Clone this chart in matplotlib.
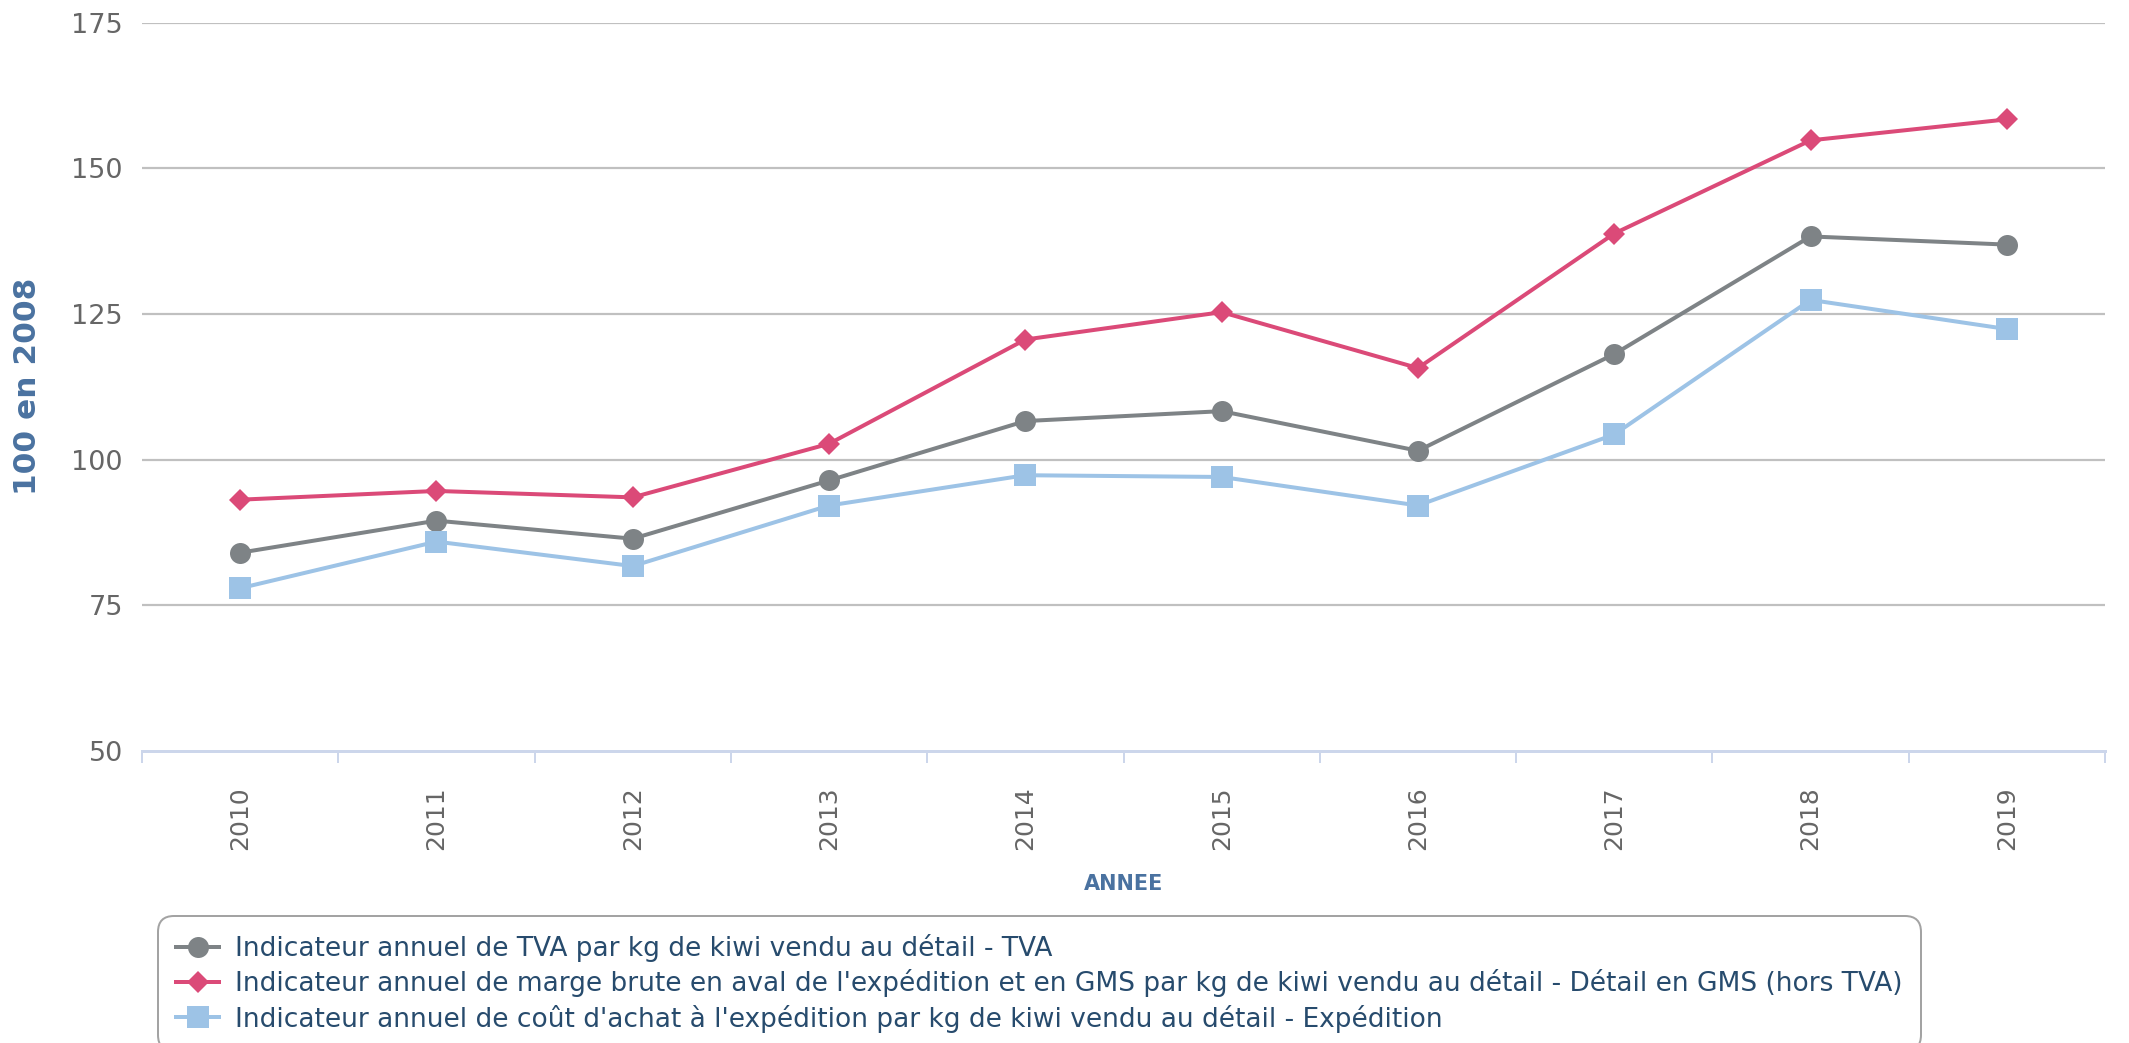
import matplotlib
matplotlib.use("Agg")
import matplotlib.pyplot as plt
from matplotlib.lines import Line2D

# ---- data ----
years = ["2010", "2011", "2012", "2013", "2014", "2015", "2016", "2017", "2018", "2019"]
tva = [84.0, 89.5, 86.4, 96.4, 106.6, 108.3, 101.5, 118.1, 138.3, 136.9]
marge_gms = [93.1, 94.6, 93.5, 102.7, 120.6, 125.3, 115.7, 138.8, 154.8, 158.4]
cout_achat = [77.9, 85.9, 81.7, 92.1, 97.3, 97.0, 92.1, 104.3, 127.4, 122.4]
labels = [
    "Indicateur annuel de TVA par kg de kiwi vendu au détail - TVA",
    "Indicateur annuel de marge brute en aval de l'expédition et en GMS par kg de kiwi vendu au détail - Détail en GMS (hors TVA)",
    "Indicateur annuel de coût d'achat à l'expédition par kg de kiwi vendu au détail - Expédition",
]
yticks = [50, 75, 100, 125, 150, 175]

# ---- styling ----
W, H = 2129, 1043
DPI = 100
c_gray = "#7e8386"
c_red = "#db4a78"
c_blue = "#9dc3e6"
c_tick = "#666666"
c_title = "#4a72a0"
c_legend_text = "#274b6d"
px = 72 / DPI  # points per pixel

fig = plt.figure(figsize=(W / DPI, H / DPI), dpi=DPI)
ax_left, ax_right = 142, 2105
ax_top, ax_bottom = 22.7, 750.7
ax = fig.add_axes([ax_left / W, 1 - ax_bottom / H,
                   (ax_right - ax_left) / W, (ax_bottom - ax_top) / H])

x = list(range(len(years)))
lw = 4 * px
l1, = ax.plot(x, tva, color=c_gray, lw=lw, marker="o", ms=21 * px,
              markeredgewidth=0, zorder=3)
l2, = ax.plot(x, marge_gms, color=c_red, lw=lw, marker="D", ms=15 * px,
              markeredgewidth=0, zorder=4)
l3, = ax.plot(x, cout_achat, color=c_blue, lw=lw, marker="s", ms=21.5 * px,
              markeredgewidth=0, zorder=3)

ax.set_xlim(-0.5, len(years) - 0.5)
ax.set_ylim(50, 175)
ax.set_yticks(yticks)
ax.set_yticklabels([str(v) for v in yticks])
ax.set_xticks(x)
ax.set_xticklabels(years, rotation=90, va="top", ha="center")
ax.set_xticks([i - 0.5 for i in range(len(years) + 1)], minor=True)

ax.tick_params(axis="y", length=0, pad=19 * px, labelsize=19.5, labelcolor=c_tick)
ax.tick_params(axis="x", which="major", length=0, pad=36 * px, labelsize=18,
               labelcolor=c_tick)
ax.tick_params(axis="x", which="minor", length=12 * px, width=2 * px,
               color="#ccd6eb", direction="out")

for s in ["top", "right", "left"]:
    ax.spines[s].set_visible(False)
ax.spines["bottom"].set_color("#ccd6eb")
ax.spines["bottom"].set_linewidth(3 * px)
ax.spines["bottom"].set_zorder(2)

for v in yticks[1:]:
    ax.axhline(v, color="#c0c0c0", lw=2.2 * px, zorder=1)

ax.set_ylabel("100 en 2008", fontsize=22.5, fontweight="bold", color=c_title,
              va="center")
ax.yaxis.set_label_coords((28 - ax_left) / (ax_right - ax_left), 0.5)
ax.set_xlabel("ANNEE", fontsize=15, fontweight="bold", color=c_title,
              va="center")
ax.xaxis.set_label_coords(0.5, -(884 - ax_bottom) / (ax_bottom - ax_top))

# ---- legend ----
h1 = Line2D([], [], color=c_gray, lw=lw, marker="o", ms=21 * px, markeredgewidth=0)
h2 = Line2D([], [], color=c_red, lw=lw, marker="D", ms=15 * px, markeredgewidth=0)
h3 = Line2D([], [], color=c_blue, lw=lw, marker="s", ms=21.5 * px, markeredgewidth=0)
leg = fig.legend([h1, h2, h3], labels, loc="upper left",
                 bbox_to_anchor=(158 / W, 1 - 916 / H), borderaxespad=0,
                 fontsize=19, frameon=True, fancybox=True, borderpad=0.68,
                 handlelength=1.64, handletextpad=0.6, labelspacing=0.28,
                 labelcolor=c_legend_text)
fr = leg.get_frame()
fr.set_edgecolor("#8c8c8c")
fr.set_linewidth(2 * px)
fr.set_boxstyle("round", pad=0, rounding_size=0.6)

fig.savefig("out.png", dpi=DPI)
